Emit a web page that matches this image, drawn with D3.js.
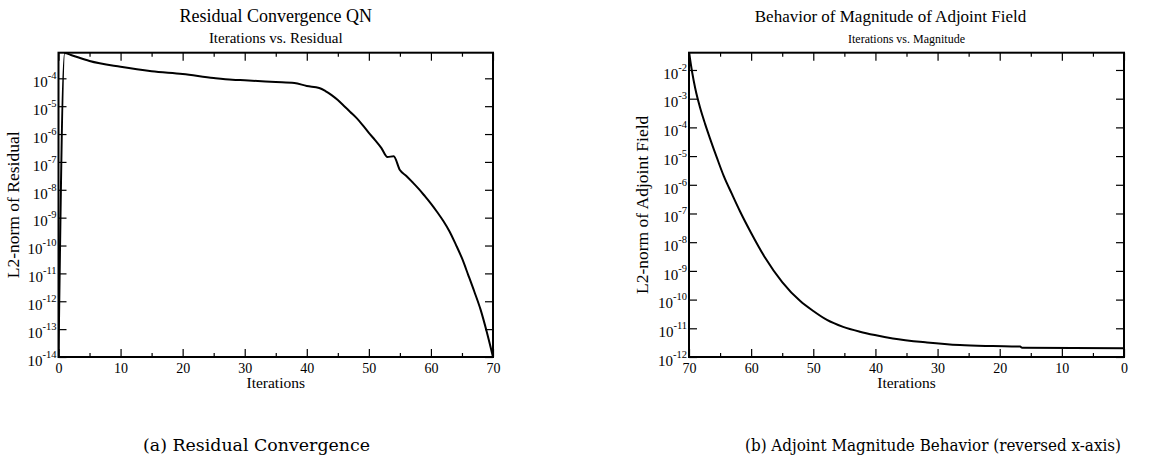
<!DOCTYPE html>
<html>
<head>
<meta charset="utf-8">
<script src="https://cdn.jsdelivr.net/npm/d3@7"></script>
<style>
  body { margin: 0; background: #fff; }
  svg { display: block; }
</style>
</head>
<body>
<div id="chart-container"></div>
<script>
// values (log axes, so estimates)
const iterResidual = [0, 1, 2, 5, 10, 15, 20, 25, 28, 30, 35, 38, 40, 42, 43, 44, 45, 46, 47, 48, 49, 50,
  51, 52, 53, 54, 55, 56, 57, 58, 59, 60, 61, 62, 63, 64, 65, 66, 67, 68, 69, 70];
const residual = [1e-14, 8.1e-4, 6.9e-4, 4.2e-4, 2.6e-4, 1.8e-4, 1.43e-4, 1.03e-4, 8.9e-5, 8.5e-5, 7.4e-5, 6.8e-5, 5.3e-5, 4.5e-5, 3.5e-5, 2.5e-5, 1.66e-5, 1.02e-5, 6.2e-6, 3.8e-6, 2.1e-6, 1.1e-6,
  6.1e-7, 3.2e-7, 1.5e-7, 1.6e-7, 5.1e-8, 3.2e-8, 1.9e-8, 1.1e-8, 6.0e-9, 3.2e-9, 1.6e-9, 7.6e-10, 3.2e-10, 1.1e-10, 3.5e-11, 8.9e-12, 2.2e-12, 5e-13, 7.9e-14, 1e-14];

const iterAdjoint = [70, 69.5, 69, 68.2, 67.4, 66.6, 65.5, 64.4, 63.1, 61.8, 60, 57.8, 55, 52.1, 50, 47.8, 45.2,
  42.5, 40.1, 37.2, 31.7, 26.4, 21.1, 16.7, 16.4, 0];
const adjointNorm = [4.3e-2, 8.5e-3, 2.3e-3, 4.7e-4, 1.3e-4, 4.0e-5, 8.6e-6, 2.0e-6, 4.8e-7, 1.2e-7, 2.1e-8, 3.0e-9, 4.1e-10, 8.9e-11, 4.0e-11, 1.95e-11, 1.12e-11,
  7.6e-12, 5.8e-12, 4.4e-12, 3.2e-12, 2.6e-12, 2.4e-12, 2.3e-12, 2.1e-12, 2.0e-12];

const xTickLabels = [0, 10, 20, 30, 40, 50, 60, 70];
const xMinorTicks = [5, 15, 25, 35, 45, 55, 65];
const residualTicks = [1e-14, 1e-13, 1e-12, 1e-11, 1e-10, 1e-9, 1e-8, 1e-7, 1e-6, 1e-5, 1e-4];
const adjointTicks = [1e-12, 1e-11, 1e-10, 1e-9, 1e-8, 1e-7, 1e-6, 1e-5, 1e-4, 1e-3, 1e-2];

const width = 1153;
const height = 464;

const svg = d3.select("#chart-container").append("svg")
  .attr("width", width)
  .attr("height", height)
  .attr("viewBox", [0, 0, width, height])
  .style("font-family", "'Liberation Serif', 'Times New Roman', serif");

svg.append("rect").attr("width", width).attr("height", height).attr("fill", "#fff");

// d3 axes put a sans-serif font on their group; drop it
function plain(a) {
  a.attr("font-family", null).attr("font-size", null);
  a.select(".domain").remove();
}

function panel(o) {
  const g = svg.append("g");
  const [x0, x1] = o.x.range();
  const [y0, y1] = o.y.range();
  const cx = (x0 + x1) / 2;

  // minor x ticks, top and bottom
  g.append("g")
    .attr("transform", `translate(0,${y0})`)
    .call(d3.axisBottom(o.x).tickValues(xMinorTicks).tickSize(-4).tickFormat(""))
    .call(plain);
  g.append("g")
    .attr("transform", `translate(0,${y1})`)
    .call(d3.axisTop(o.x).tickValues(xMinorTicks).tickSize(-4).tickFormat(""))
    .call(plain);

  // major x ticks
  g.append("g")
    .attr("transform", `translate(0,${y0})`)
    .call(d3.axisBottom(o.x).tickValues(xTickLabels).tickSize(-8).tickPadding(6))
    .call(plain)
    .call(a => a.selectAll("text").attr("font-size", 14).attr("fill", "#000"));
  g.append("g")
    .attr("transform", `translate(0,${y1})`)
    .call(d3.axisTop(o.x).tickValues(xTickLabels).tickSize(-8).tickFormat(""))
    .call(plain);

  // y ticks, left with 10^n labels, right plain
  g.append("g")
    .attr("transform", `translate(${x0},0)`)
    .call(d3.axisLeft(o.y).tickValues(o.yTicks).tickSize(-8).tickPadding(2))
    .call(plain)
    .call(a => a.selectAll("text")
      .attr("font-size", 15)
      .attr("fill", "#000")
      .attr("dy", "0.55em")
      .each(function(d) {
        const t = d3.select(this).text(null);
        t.append("tspan").text("10");
        t.append("tspan").attr("dy", -8).attr("font-size", 10.5).text(Math.round(Math.log10(d)));
      }));
  g.append("g")
    .attr("transform", `translate(${x1},0)`)
    .call(d3.axisRight(o.y).tickValues(o.yTicks).tickSize(-8).tickFormat(""))
    .call(plain);

  g.selectAll(".tick line").attr("stroke", "#000").attr("stroke-width", 1.2);

  // curve
  const clipId = "clip-" + o.id;
  svg.append("clipPath").attr("id", clipId)
    .append("rect")
    .attr("x", Math.min(x0, x1)).attr("y", y1)
    .attr("width", Math.abs(x1 - x0)).attr("height", y0 - y1);

  const line = d3.line()
    .x(d => o.x(d[0]))
    .y(d => o.y(d[1]))
    .curve(d3.curveMonotoneX);

  g.append("path")
    .datum(o.xs.map((v, i) => [v, o.ys[i]]))
    .attr("clip-path", `url(#${clipId})`)
    .attr("fill", "none")
    .attr("stroke", "#000")
    .attr("stroke-width", 2)
    .attr("stroke-linejoin", "round")
    .attr("d", line);

  // frame
  g.append("rect")
    .attr("x", x0).attr("y", y1)
    .attr("width", x1 - x0).attr("height", y0 - y1)
    .attr("fill", "none")
    .attr("stroke", "#000")
    .attr("stroke-width", 2);

  // titles and labels
  g.append("text").attr("x", cx + o.titleShift).attr("y", 22)
    .attr("text-anchor", "middle").attr("font-size", o.titleSize).text(o.title);
  g.append("text").attr("x", cx).attr("y", 43)
    .attr("text-anchor", "middle").attr("font-size", o.subSize).text(o.subtitle);
  g.append("text").attr("x", cx).attr("y", 388)
    .attr("text-anchor", "middle").attr("font-size", 15.5).text("Iterations");
  g.append("text")
    .attr("transform", `translate(${o.ylabelX},${(y0 + y1) / 2}) rotate(-90)`)
    .attr("text-anchor", "middle").attr("font-size", 17.5).text(o.ylabel);

  // caption under the subfigure
  svg.append("text")
    .attr("x", o.captionX).attr("y", 451)
    .attr("text-anchor", "middle")
    .attr("font-family", "'DejaVu Serif', serif")
    .attr("font-size", 16.5)
    .attr("textLength", o.captionWidth)
    .attr("lengthAdjust", "spacingAndGlyphs")
    .text(o.caption);
}

panel({
  id: "residual",
  x: d3.scaleLinear().domain([0, 70]).range([58.5, 493]),
  y: d3.scaleLog().domain([1e-14, 8.3e-4]).range([357, 52.7]),
  xs: iterResidual, ys: residual,
  yTicks: residualTicks,
  title: "Residual Convergence QN", titleSize: 18, titleShift: 0,
  subtitle: "Iterations vs. Residual", subSize: 15,
  ylabel: "L2-norm of Residual", ylabelX: 19,
  caption: "(a) Residual Convergence", captionX: 256.5, captionWidth: 227
});

panel({
  id: "adjoint",
  x: d3.scaleLinear().domain([70, 0]).range([689, 1124]),
  y: d3.scaleLog().domain([1e-12, 4e-2]).range([357, 52.7]),
  xs: iterAdjoint, ys: adjointNorm,
  yTicks: adjointTicks,
  title: "Behavior of Magnitude of Adjoint Field", titleSize: 17, titleShift: -16,
  subtitle: "Iterations vs. Magnitude", subSize: 12,
  ylabel: "L2-norm of Adjoint Field", ylabelX: 648,
  caption: "(b) Adjoint Magnitude Behavior (reversed x-axis)", captionX: 933, captionWidth: 376
});
</script>
</body>
</html>
